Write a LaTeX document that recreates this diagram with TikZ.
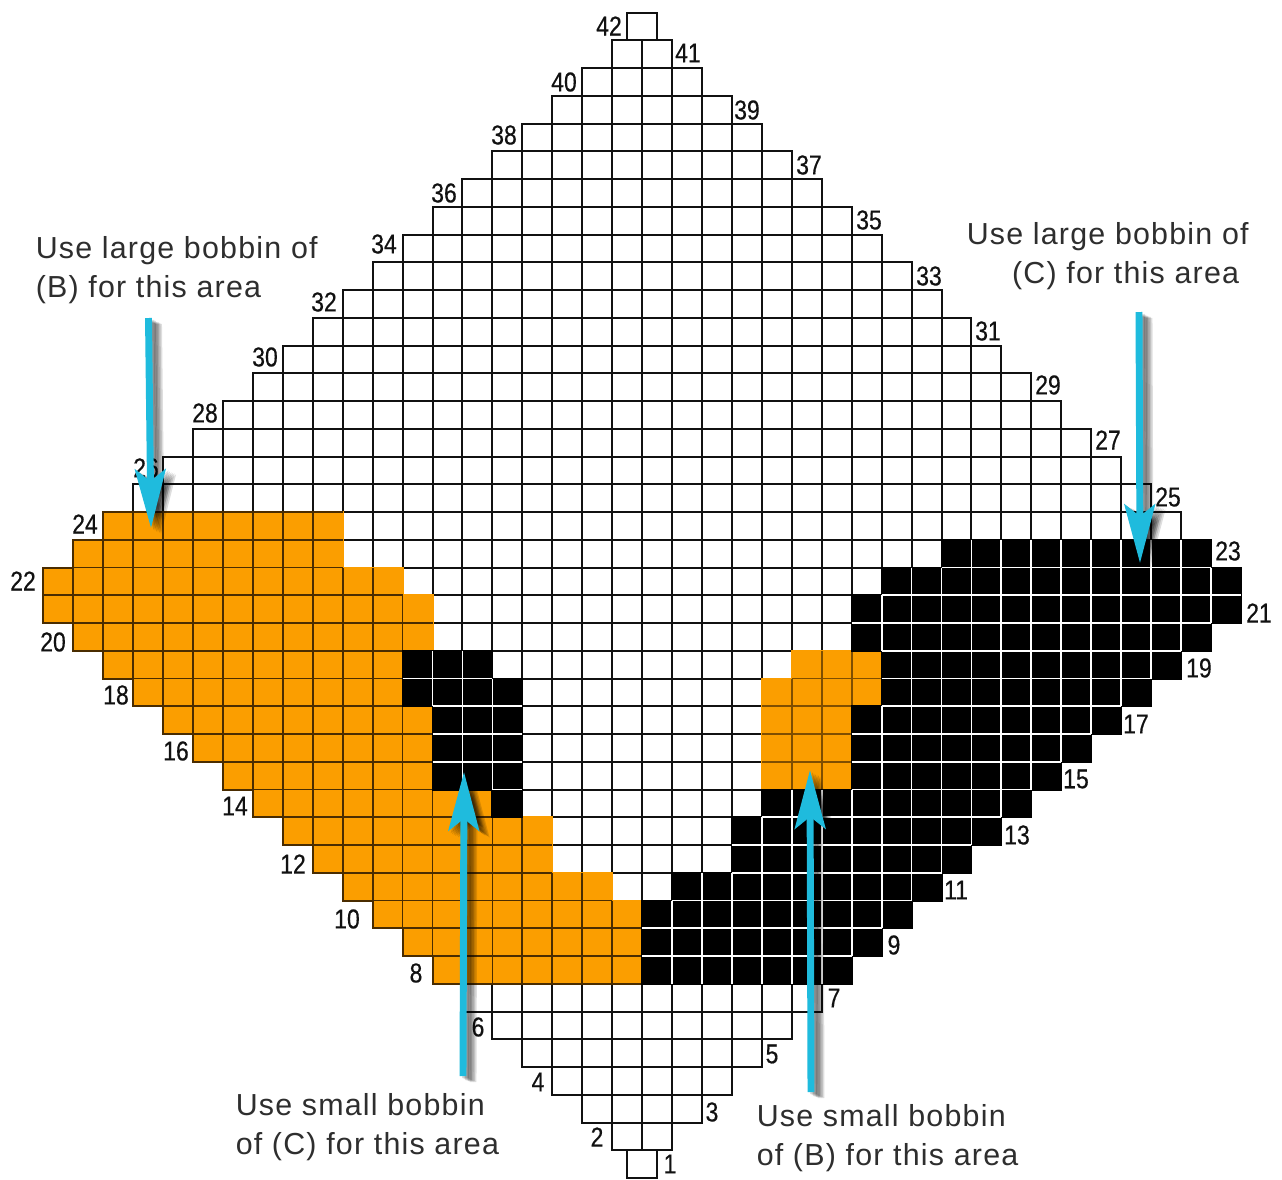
\documentclass[tikz,border=0pt]{standalone}
\usepackage{fontspec}
\setmainfont[LetterSpace=4]{Liberation Sans}
\newfontfamily\labfont[FakeStretch=0.84,FakeBold=0.4]{Liberation Sans}
\usetikzlibrary{arrows.meta}
\definecolor{yarnorange}{HTML}{FB9E00}
\definecolor{orangeline}{HTML}{4A2C00}
\definecolor{gridline}{HTML}{111111}
\definecolor{arrowcyan}{HTML}{1FBBDD}
\definecolor{textgrey}{HTML}{2E2E2E}
\tikzset{
  gridcell/.style={draw=gridline,fill=white,line width=1.5pt},
  numlabel/.style={inner sep=0pt,text=gridline,font=\labfont\fontsize{20.5}{20.5}\selectfont},
  note/.style={inner sep=0pt,anchor=north west,align=left,text=textgrey,font=\fontsize{22.8}{29.25}\selectfont},
  bobarrow/.style={line width=5.2pt,-{Stealth[length=44pt,width=23pt,inset=9pt]}},
}
\newcommand{\colourruns}[3]{%
  \foreach \rw/\a/\b in {#1}{%
    \pgfmathtruncatemacro\jt{42-\rw}%
    \pgfmathtruncatemacro\jb{43-\rw}%
    \filldraw[fill=#2,draw=#2,line width=1.5pt] (\a,\jt) rectangle (\b,\jb);
  }%
  \foreach \rw/\a/\b in {#1}{%
    \pgfmathtruncatemacro\jt{42-\rw}%
    \pgfmathtruncatemacro\jb{43-\rw}%
    \foreach \k in {\a,...,\b}{%
      \ifnum\k>\a\relax\ifnum\k<\b\relax
        \draw[#3,line width=1.35pt] (\k,\jt) -- (\k,\jb);
      \fi\fi
    }%
  }%
}
\newcommand{\rowseps}[2]{%
  \foreach \rw/\a/\b in {#1}{%
    \pgfmathtruncatemacro\jb{43-\rw}%
    \draw[#2,line width=1.35pt] (\a,\jb) -- (\b,\jb);
  }%
}
\newcommand{\bobbinarrow}[2]{%
  \foreach \d/\e in {10/6,8.5/5,7/4.5,5.5/4,4/3,2.5/2}{%
    \draw[bobarrow,draw=black,fill=black,opacity=0.13] ([shift={(\d,\e)}]#1) -- ([shift={(\d,\e)}]#2);
  }%
  \draw[bobarrow,draw=arrowcyan,fill=arrowcyan] (#1) -- (#2);
}
\begin{document}
\begin{tikzpicture}[x=0.75pt,y=-0.75pt]
\useasboundingbox (0,0) rectangle (1282,1179);
\fill[white] (0,0) rectangle (1282,1179);
\begin{scope}[shift={(43.3,12.5)},x=22.455pt,y=-20.8125pt]
  % white grid
  \foreach \rw in {2,...,41}{%
    \pgfmathtruncatemacro\hw{\rw<=21 ? \rw-1 : 42-\rw}%
    \pgfmathtruncatemacro\ka{20-\hw}%
    \pgfmathtruncatemacro\kb{19+\hw}%
    \pgfmathtruncatemacro\jt{42-\rw}%
    \foreach \k in {\ka,...,\kb}{%
      \draw[gridcell] (\k,\jt) rectangle ++(1,1);
    }%
  }
  \draw[gridcell] (19.5,0) rectangle (20.5,1);
  \draw[gridcell] (19.5,41) rectangle (20.5,42);
  % orange area, left
  \colourruns{24/2/10,23/1/10,22/0/12,21/0/13,20/1/13,19/2/12,18/3/12,17/4/13,16/5/13,15/6/13,14/7/15,13/8/17,12/9/17,11/10/19,10/11/20,9/12/20,8/13/20}{yarnorange}{orangeline}
  \rowseps{24/2/10,23/1/10,22/0/12,21/1/13,20/2/12,19/3/12,18/4/12,17/5/13,16/6/13,15/7/13,14/8/15,13/9/17,12/10/17,11/11/19,10/12/20,9/13/20}{orangeline}
  \draw[orangeline,line width=1.5pt] (10,18) -- (2,18) -- (2,19) -- (1,19) -- (1,20) -- (0,20) -- (0,22) -- (1,22) -- (1,23) -- (2,23) -- (2,24) -- (3,24) -- (3,25) -- (4,25) -- (4,26) -- (5,26) -- (5,27) -- (6,27) -- (6,28) -- (7,28) -- (7,29) -- (8,29) -- (8,30) -- (9,30) -- (9,31) -- (10,31) -- (10,32) -- (11,32) -- (11,33) -- (12,33) -- (12,34) -- (13,34) -- (13,35) -- (20,35);
  % orange area, right
  \colourruns{19/25/28,18/24/28,17/24/27,16/24/27,15/24/27}{yarnorange}{orangeline!70!yarnorange}
  \rowseps{19/25/28,18/24/27,17/24/27,16/24/27}{orangeline!70!yarnorange}
  % black areas
  \colourruns{19/12/15,18/12/16,17/13/16,16/13/16,15/13/16,14/15/16}{black}{white}
  \rowseps{19/12/15,18/13/16,17/13/16,16/13/16,15/15/16}{white}
  \colourruns{23/30/39,22/28/40,21/27/40,20/27/39,19/28/38,18/28/37,17/27/36,16/27/35,15/27/34,14/24/33,13/23/32,12/23/31,11/21/30,10/20/29,9/20/28,8/20/27}{black}{white}
  \rowseps{23/30/39,22/28/40,21/27/39,20/28/38,19/28/37,18/28/36,17/27/35,16/27/34,15/27/33,14/24/32,13/23/31,12/23/30,11/21/29,10/20/28,9/20/27}{white}
\end{scope}
% row numbers
\foreach \n/\x/\y in {42/609/26,41/688/53,40/564/82,39/747/110,38/504/135,37/809/165,36/444/193,35/869/220,34/384/244,33/929/276,32/324/302,31/988/331,30/265/357,29/1048/385,28/205/413,27/1108/440,26/146/468,25/1168/497,24/85/524,23/1228/551,22/23/581,21/1259/613,20/53/642,19/1199/668,18/116/695,17/1136/724,16/176/751,15/1076/779,14/235/806,13/1017/835,12/293/864,11/956/890,10/347/919,9/894/945,8/416/973,7/834/998,6/478/1027,5/772/1054,4/538/1082,3/712/1112,2/597/1137,1/670/1164}{%
  \node[numlabel] (row\n) at (\x,\y) {\n};
}
% arrows
\coordinate (arrowAfrom) at (148.5,318);
\coordinate (arrowAto) at (151,528);
\coordinate (arrowBfrom) at (1139,312);
\coordinate (arrowBto) at (1140,563);
\coordinate (arrowCfrom) at (463,1076);
\coordinate (arrowCto) at (464,772);
\coordinate (arrowDfrom) at (811,1092);
\coordinate (arrowDto) at (810,770);
\bobbinarrow{arrowAfrom}{arrowAto}
\bobbinarrow{arrowBfrom}{arrowBto}
\bobbinarrow{arrowCfrom}{arrowCto}
\bobbinarrow{arrowDfrom}{arrowDto}
% notes
\node[note] (noteA) at (35.5,236) {Use large bobbin of\\(B) for this area};
\node[note] (noteB) at (966.5,222) {Use large bobbin of\\\hspace*{34pt}(C) for this area};
\node[note] (noteC) at (235.5,1093) {Use small bobbin\\of (C) for this area};
\node[note] (noteD) at (756.5,1104) {Use small bobbin\\of (B) for this area};
\end{tikzpicture}
\end{document}
